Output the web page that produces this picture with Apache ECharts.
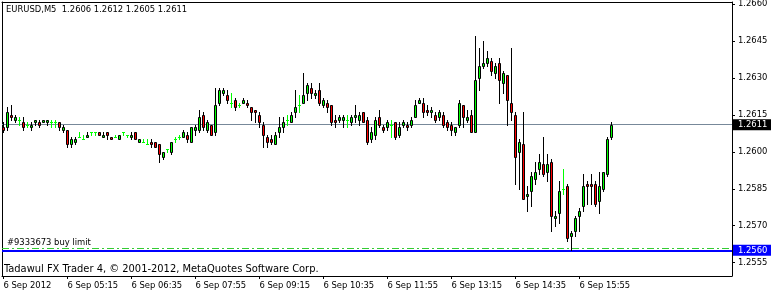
<!DOCTYPE html>
<html><head><meta charset="utf-8">
<script src="https://cdn.jsdelivr.net/npm/echarts@6/dist/echarts.min.js"></script>
<style>html,body{margin:0;padding:0;background:#fff}#c{width:771px;height:293px}</style>
</head><body><div id="c"></div>
<script>
const symbol = 'EURUSD';
const timeframe = 'M5';
const xMin = -0.375, xMax = 182.125; // visible bar-index range across the plot

const opens = [
1.2610,1.2610,1.2615,1.2613,1.2613,1.2612,1.2611,1.2610,1.2612,1.2612,
1.2612,1.2612,1.2612,1.2612,1.2612,1.2609,1.2609,1.2603,1.2604,1.2606,
1.2605,1.2606,1.2608,1.2608,1.2608,1.2606,1.2608,1.2606,1.2606,1.2605,
1.2608,1.2607,1.2606,1.2608,1.2604,1.2604,1.2603,1.2604,1.2604,1.2603,
1.2598,1.2601,1.2600,1.2605,1.2606,1.2606,1.2607,1.2604,1.2609,1.2609,
1.2615,1.2609,1.2611,1.2608,1.2620,1.2624,1.2623,1.2620,1.2621,1.2619,
1.2620,1.2620,1.2618,1.2617,1.2615,1.2611,1.2606,1.2605,1.2603,1.2608,
1.2610,1.2613,1.2612,1.2616,1.2619,1.2620,1.2624,1.2626,1.2623,1.2625,
1.2619,1.2620,1.2619,1.2613,1.2613,1.2613,1.2613,1.2612,1.2614,1.2613,
1.2616,1.2613,1.2605,1.2607,1.2614,1.2610,1.2610,1.2611,1.2612,1.2607,
1.2611,1.2611,1.2611,1.2614,1.2620,1.2620,1.2617,1.2616,1.2615,1.2614,
1.2615,1.2612,1.2611,1.2608,1.2611,1.2619,1.2613,1.2615,1.2608,1.2630,
1.2635,1.2636,1.2637,1.2632,1.2636,1.2628,1.2631,1.2620,1.2615,1.2600,
1.2603,1.2582,1.2584,1.2589,1.2593,1.2595,1.2592,1.2596,1.2573,1.2575,
1.2585,1.2586,1.2566,1.2568,1.2574,1.2578,1.2587,1.2587,1.2587,1.2580,
1.2585,1.2591,1.2606];

const highs = [
1.2612,1.2618,1.2619,1.2615,1.2614,1.2614,1.2612,1.2612,1.2613,1.2613,
1.2613,1.2613,1.2613,1.2613,1.2612,1.2611,1.2609,1.2606,1.2606,1.2608,
1.2607,1.2608,1.2608,1.2608,1.2608,1.2608,1.2608,1.2606,1.2607,1.2607,
1.2608,1.2607,1.2608,1.2608,1.2605,1.2605,1.2605,1.2605,1.2604,1.2603,
1.2600,1.2601,1.2604,1.2606,1.2607,1.2609,1.2608,1.2610,1.2611,1.2617,
1.2616,1.2613,1.2611,1.2626,1.2626,1.2626,1.2625,1.2624,1.2622,1.2620,
1.2622,1.2621,1.2618,1.2617,1.2616,1.2612,1.2607,1.2607,1.2608,1.2614,
1.2614,1.2615,1.2616,1.2625,1.2623,1.2632,1.2628,1.2628,1.2625,1.2628,
1.2622,1.2621,1.2619,1.2615,1.2615,1.2615,1.2615,1.2615,1.2619,1.2616,
1.2616,1.2614,1.2610,1.2614,1.2617,1.2611,1.2613,1.2613,1.2612,1.2612,
1.2613,1.2612,1.2614,1.2621,1.2622,1.2622,1.2619,1.2618,1.2616,1.2617,
1.2616,1.2613,1.2612,1.2610,1.2621,1.2619,1.2617,1.2617,1.2647,1.2642,
1.2645,1.2641,1.2638,1.2636,1.2638,1.2633,1.2631,1.2642,1.2616,1.2605,
1.2616,1.2586,1.2592,1.2596,1.2599,1.2606,1.2599,1.2597,1.2576,1.2588,
1.2593,1.2587,1.2568,1.2574,1.2577,1.2591,1.2588,1.2591,1.2588,1.2592,
1.2592,1.2606,1.2612];

const lows = [
1.2608,1.2609,1.2613,1.2612,1.2611,1.2609,1.2610,1.2609,1.2611,1.2610,
1.2612,1.2611,1.2610,1.2610,1.2609,1.2608,1.2602,1.2602,1.2603,1.2606,
1.2605,1.2606,1.2607,1.2607,1.2607,1.2606,1.2605,1.2605,1.2606,1.2605,
1.2607,1.2606,1.2605,1.2605,1.2604,1.2604,1.2603,1.2602,1.2602,1.2596,
1.2597,1.2600,1.2599,1.2604,1.2605,1.2606,1.2604,1.2604,1.2607,1.2608,
1.2609,1.2608,1.2607,1.2607,1.2619,1.2623,1.2620,1.2618,1.2617,1.2618,
1.2620,1.2618,1.2613,1.2612,1.2610,1.2602,1.2602,1.2603,1.2603,1.2606,
1.2608,1.2611,1.2612,1.2614,1.2616,1.2620,1.2621,1.2622,1.2622,1.2619,
1.2618,1.2616,1.2611,1.2610,1.2612,1.2610,1.2610,1.2611,1.2612,1.2611,
1.2612,1.2603,1.2604,1.2605,1.2610,1.2608,1.2609,1.2606,1.2605,1.2606,
1.2610,1.2609,1.2610,1.2614,1.2620,1.2614,1.2615,1.2614,1.2612,1.2613,
1.2610,1.2609,1.2607,1.2607,1.2610,1.2610,1.2612,1.2608,1.2608,1.2625,
1.2634,1.2635,1.2631,1.2630,1.2620,1.2624,1.2611,1.2613,1.2587,1.2585,
1.2581,1.2576,1.2578,1.2587,1.2591,1.2590,1.2588,1.2568,1.2570,1.2571,
1.2583,1.2564,1.2560,1.2566,1.2568,1.2576,1.2579,1.2579,1.2578,1.2575,
1.2584,1.2590,1.2605];

const closes = [
1.2609,1.2616,1.2614,1.2614,1.2613,1.2610,1.2611,1.2611,1.2613,1.2611,
1.2613,1.2613,1.2612,1.2612,1.2610,1.2610,1.2603,1.2605,1.2605,1.2606,
1.2605,1.2607,1.2608,1.2608,1.2607,1.2607,1.2607,1.2605,1.2606,1.2607,
1.2608,1.2607,1.2607,1.2605,1.2605,1.2604,1.2603,1.2603,1.2602,1.2599,
1.2600,1.2601,1.2604,1.2605,1.2606,1.2608,1.2605,1.2610,1.2610,1.2614,
1.2610,1.2612,1.2607,1.2619,1.2625,1.2625,1.2621,1.2620,1.2618,1.2619,
1.2621,1.2619,1.2616,1.2616,1.2612,1.2607,1.2604,1.2604,1.2607,1.2610,
1.2612,1.2613,1.2615,1.2618,1.2619,1.2623,1.2627,1.2624,1.2624,1.2620,
1.2621,1.2618,1.2612,1.2612,1.2614,1.2614,1.2613,1.2614,1.2615,1.2615,
1.2612,1.2604,1.2608,1.2613,1.2611,1.2609,1.2612,1.2611,1.2606,1.2610,
1.2612,1.2610,1.2613,1.2619,1.2621,1.2616,1.2616,1.2617,1.2613,1.2616,
1.2611,1.2610,1.2609,1.2610,1.2620,1.2614,1.2614,1.2608,1.2629,1.2635,
1.2636,1.2638,1.2633,1.2635,1.2629,1.2632,1.2621,1.2616,1.2598,1.2604,
1.2581,1.2583,1.2590,1.2592,1.2596,1.2591,1.2595,1.2574,1.2574,1.2584,
1.2585,1.2565,1.2567,1.2573,1.2576,1.2586,1.2586,1.2586,1.2579,1.2586,
1.2592,1.2605,1.2611];

const xTickBars = [0,16,32,48,64,80,96,112,128,144];
const xTickLabels = ['6 Sep 2012','6 Sep 05:15','6 Sep 06:35','6 Sep 07:55','6 Sep 09:15',
  '6 Sep 10:35','6 Sep 11:55','6 Sep 13:15','6 Sep 14:35','6 Sep 15:55'];
const yTicks = [1.2555,1.2570,1.2585,1.2600,1.2615,1.2630,1.2645,1.2660];
const yMin = 1.25496, yMax = 1.26608;
const bidPrice = 1.2611;
const hLinePrice = 1.2560;
const orderPrice = 1.2561;
const orderLabel = '#9333673 buy limit';
const copyright = 'Tadawul FX Trader 4, \u00a9 2001-2012, MetaQuotes Software Corp.';

const FONT = '"DejaVu Sans Condensed", "Liberation Sans", sans-serif';
const FS = 9.33;
const UP = '#00ff00', DOWN = '#ff0000', WICK = '#000000', DOJI = '#00ff00';

const candleData = opens.map((o, i) => [i, o, closes[i], lows[i], highs[i]]);
const last = opens.length - 1;
const f4 = v => v.toFixed(4);
const frameAxis = {show: true, axisLine: {show: true, onZero: false, lineStyle: {color: '#000', width: 1}},
  axisTick: {show: false}, axisLabel: {show: false}, splitLine: {show: false}};

function renderCandle(params, api) {
  const i = api.value(0), o = api.value(1), c = api.value(2), l = api.value(3), h = api.value(4);
  const pO = api.coord([i, o]), pC = api.coord([i, c]), pL = api.coord([i, l]), pH = api.coord([i, h]);
  const cx = Math.floor(pO[0]) + 0.5;
  const snap = y => Math.round(y) + 0.5;
  const yO = snap(pO[1]), yC = snap(pC[1]), yH = snap(pH[1]), yL = snap(pL[1]);
  if (o === c) {
    return {type: 'group', children: [
      {type: 'line', shape: {x1: cx, y1: yH - 0.5, x2: cx, y2: yL + 0.5}, style: {stroke: DOJI, lineWidth: 1}},
      {type: 'line', shape: {x1: cx - 1.5, y1: yO, x2: cx + 1.5, y2: yO}, style: {stroke: DOJI, lineWidth: 1}}
    ]};
  }
  const top = Math.min(yO, yC), bot = Math.max(yO, yC);
  return {type: 'group', children: [
    {type: 'line', shape: {x1: cx, y1: yH - 0.5, x2: cx, y2: yL + 0.5}, style: {stroke: WICK, lineWidth: 1}},
    {type: 'rect', shape: {x: cx - 1, y: top, width: 2, height: bot - top},
     style: {fill: c > o ? UP : DOWN, stroke: WICK, lineWidth: 1}}
  ]};
}

const chart = echarts.init(document.getElementById('c'), null, {renderer: 'canvas'});
chart.setOption({
  animation: false,
  backgroundColor: '#fff',
  textStyle: {fontFamily: FONT},
  title: [
    {text: symbol + ',' + timeframe + '  ' + [opens[last], highs[last], lows[last], closes[last]].map(f4).join(' '),
     left: 6, top: 5, padding: 0,
     textStyle: {fontSize: FS, fontWeight: 'normal', color: '#000', fontFamily: FONT}},
    {text: copyright, left: 4, top: 264, padding: 0,
     textStyle: {fontSize: 11, fontWeight: 'normal', color: '#000', fontFamily: FONT}}
  ],
  grid: {left: 2, top: 2, width: 730, height: 274, show: false, containLabel: false, outerBoundsMode: 'none'},
  xAxis: [{
    type: 'value', min: xMin, max: xMax, position: 'bottom',
    axisLine: {show: true, onZero: false, lineStyle: {color: '#000', width: 1}},
    axisTick: {show: true, length: 3, customValues: xTickBars, lineStyle: {color: '#000'}},
    axisLabel: {customValues: xTickBars, align: 'left', margin: 5, fontSize: FS, color: '#000', fontFamily: FONT,
      formatter: v => xTickLabels[xTickBars.indexOf(v)]},
    splitLine: {show: false}
  }, Object.assign({type: 'value', min: xMin, max: xMax, position: 'top'}, frameAxis)],
  yAxis: [{
    type: 'value', position: 'right', min: yMin, max: yMax,
    axisLine: {show: true, onZero: false, lineStyle: {color: '#000', width: 1}},
    axisTick: {show: true, length: 3, customValues: yTicks, lineStyle: {color: '#000'}},
    axisLabel: {customValues: yTicks, margin: 6, fontSize: FS, color: '#000', fontFamily: FONT, formatter: v => f4(v)},
    splitLine: {show: false}
  }, Object.assign({type: 'value', min: yMin, max: yMax, position: 'left'}, frameAxis)],
  series: [
    {type: 'custom', data: candleData, encode: {x: 0, y: [1, 2, 3, 4]}, renderItem: renderCandle, clip: true, z: 2,
     silent: true,
     markLine: {silent: true, z: 1, symbol: ['none', 'none'], animation: false, precision: 4,
       data: [
         {yAxis: bidPrice,
          lineStyle: {color: '#778899', width: 1, type: 'solid'},
          label: {show: true, position: 'end', distance: 1, formatter: f4(bidPrice), backgroundColor: '#000', color: '#fff',
                  padding: [1, 4, 0, 5], fontSize: FS, lineHeight: 10, fontFamily: FONT}},
         {yAxis: orderPrice,
          lineStyle: {color: '#33cc33', width: 1, type: [7, 3, 2, 3]},
          label: {show: true, position: 'insideStartTop', distance: [5, 1], formatter: orderLabel, color: '#000',
                  fontSize: FS, fontFamily: FONT}},
         {yAxis: hLinePrice,
          lineStyle: {color: '#0000ff', width: 2, type: 'solid'},
          label: {show: true, position: 'end', distance: 1, formatter: f4(hLinePrice), backgroundColor: '#0000ff', color: '#fff',
                  padding: [1, 4, 0, 5], fontSize: FS, lineHeight: 10, fontFamily: FONT}}
       ]}}
  ]
});
</script>
</body></html>
